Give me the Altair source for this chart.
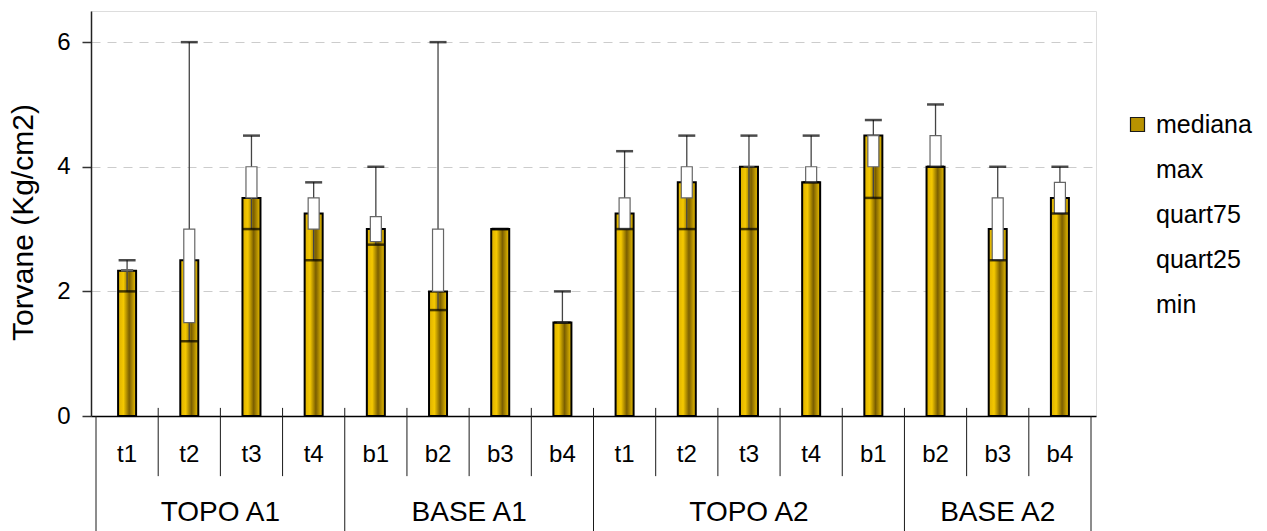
import altair as alt
import pandas as pd

# ---- data -------------------------------------------------------------
categories = ["t1", "t2", "t3", "t4", "b1", "b2", "b3", "b4",
              "t1", "t2", "t3", "t4", "b1", "b2", "b3", "b4"]
groups = ["TOPO A1"] * 4 + ["BASE A1"] * 4 + ["TOPO A2"] * 5 + ["BASE A2"] * 3

mediana = [2.33, 2.5, 3.5, 3.25, 3.0, 2.0, 3.0, 1.5,
           3.25, 3.75, 4.0, 3.75, 4.5, 4.0, 3.0, 3.5]
max_vals = [2.5, 6.0, 4.5, 3.75, 4.0, 6.0, 3.0, 2.0,
            4.25, 4.5, 4.5, 4.5, 4.75, 5.0, 4.0, 4.0]
quart75 = [2.35, 3.0, 4.0, 3.5, 3.2, 3.0, 3.0, 1.5,
           3.5, 4.0, 4.0, 4.0, 4.5, 4.5, 3.5, 3.75]
quart25 = [2.33, 1.5, 3.5, 3.0, 2.8, 2.0, 3.0, 1.5,
           3.0, 3.5, 4.0, 3.75, 4.0, 4.0, 2.5, 3.25]
min_vals = [2.0, 1.2, 3.0, 2.5, 2.75, 1.7, 3.0, 1.5,
            3.0, 3.0, 3.0, 3.75, 3.5, 4.0, 2.5, 3.25]

series_names = ["mediana", "max", "quart75", "quart25", "min"]
y_ticks = [0, 2, 4, 6]

# ---- layout constants (in y data units below the axis) -----------------
FONT = "Liberation Sans"
Y_MAX = 6.5
SEP_TOP = 0.13          # separators poke slightly above the x axis line
CAT_SEP_BOTTOM = -0.965
GROUP_SEP_BOTTOM = -1.85
CAT_LABEL_Y = -0.63
GROUP_LABEL_Y = -1.55

n = len(categories)
df = pd.DataFrame({
    "pos": [i + 0.5 for i in range(n)],
    "cat": categories,
    "group": groups,
    "mediana": mediana,
    "max": max_vals,
    "q75": quart75,
    "q25": quart25,
    "min": min_vals,
})

# category separators; the ones between groups run down to the bottom
sep_rows = []
for i in range(n + 1):
    edge = i in (0, n)
    long_line = edge or groups[i - 1] != groups[i]
    sep_rows.append({
        "pos": i,
        "top": 0 if edge else SEP_TOP,
        "bottom": GROUP_SEP_BOTTOM if long_line else CAT_SEP_BOTTOM,
    })
sep_df = pd.DataFrame(sep_rows)

group_rows = []
for g in dict.fromkeys(groups):
    idx = [i for i, gg in enumerate(groups) if gg == g]
    group_rows.append({"group": g, "pos": (idx[0] + idx[-1] + 1) / 2})
group_df = pd.DataFrame(group_rows)
group_df["y"] = GROUP_LABEL_Y
cat_df = df[["pos", "cat"]].copy()
cat_df["y"] = CAT_LABEL_Y

legend_df = pd.DataFrame({"serie": series_names})

# ---- shared encodings -------------------------------------------------
x_scale = alt.Scale(domain=[0, n], nice=False, zero=False)
x_axis = alt.Axis(labels=False, ticks=False, grid=False, title=None,
                  domainColor="#000000", domainWidth=1.5)
y_scale = alt.Scale(domain=[0, Y_MAX], nice=False, zero=False)
y_axis = alt.Axis(values=y_ticks, title="Torvane (Kg/cm2)", grid=True,
                  gridColor="#cccccc", gridDash=[9, 7], gridWidth=1,
                  tickSize=9, tickColor="#333333", tickWidth=1.5,
                  domainColor="#222222", domainWidth=1.5,
                  labelFont=FONT, labelFontSize=24, labelColor="#000000",
                  labelPadding=12,
                  titleFont=FONT, titleFontSize=30, titleFontWeight="normal",
                  titleColor="#000000", titleAngle=270, titleX=-68, titleY=211,
                  titleAlign="center", titleBaseline="middle")


def X(field="pos"):
    return alt.X(f"{field}:Q", scale=x_scale, axis=x_axis)


def Y(field):
    return alt.Y(f"{field}:Q", scale=y_scale, axis=y_axis)


gold = alt.Gradient(
    gradient="linear", x1=0, x2=1, y1=0, y2=0,
    stops=[
        alt.GradientStop(color="#dcb000", offset=0),
        alt.GradientStop(color="#f4c800", offset=0.3),
        alt.GradientStop(color="#7a5e00", offset=0.62),
        alt.GradientStop(color="#eec200", offset=1),
    ],
)

bars = alt.Chart(df).mark_bar(size=18, fill=gold, stroke="#000000",
                              strokeWidth=2).encode(x=X(), y=Y("mediana"))

whisker = alt.Chart(df).mark_rule(color="#444444", strokeWidth=1.3).encode(
    x=X(), y=Y("min"), y2=alt.Y2("max"))

box = alt.Chart(df).mark_bar(size=11, fill="#ffffff", stroke="#666666",
                             strokeWidth=1.2).encode(x=X(), y=Y("q25"), y2=alt.Y2("q75"))

cap_max = alt.Chart(df).mark_tick(orient="horizontal", size=17, thickness=2.5,
                                  color="#000000").encode(x=X(), y=Y("max"))
cap_min = alt.Chart(df).mark_tick(orient="horizontal", size=17, thickness=2.5,
                                  color="#000000").encode(x=X(), y=Y("min"))

separators = alt.Chart(sep_df).mark_rule(color="#1a1a1a", strokeWidth=1).encode(
    x=X(), y=Y("top"), y2=alt.Y2("bottom"))

cat_labels = alt.Chart(cat_df).mark_text(
    font=FONT, fontSize=24, color="#000000", baseline="middle", align="center"
).encode(x=X(), y=Y("y"), text="cat:N")

group_labels = alt.Chart(group_df).mark_text(
    font=FONT, fontSize=28, color="#000000", baseline="middle", align="center"
).encode(x=X(), y=Y("y"), text="group:N")

legend = alt.Legend(title=None, orient="none", legendX=1034, legendY=101,
                    symbolType="square", symbolSize=196, symbolOpacity=1,
                    symbolStrokeWidth=1.2, labelFont=FONT, labelFontSize=25,
                    labelColor="#000000", labelOffset=6, rowPadding=19,
                    padding=0)
legend_layer = alt.Chart(legend_df).mark_square(opacity=0).encode(
    fill=alt.Fill("serie:N", legend=legend,
                  scale=alt.Scale(domain=series_names,
                                  range=["#b89200"] + ["transparent"] * 4)),
    stroke=alt.Stroke("serie:N", legend=legend,
                      scale=alt.Scale(domain=series_names,
                                      range=["#1a1a1a"] + ["transparent"] * 4)),
)

chart = alt.layer(
    bars, whisker, box, cap_max, cap_min, separators,
    cat_labels, group_labels, legend_layer,
).properties(
    width=1005, height=405,
    autosize=alt.AutoSizeParams(type="none"),
    padding={"left": 91, "top": 11, "right": 171, "bottom": 115},
).configure_view(
    stroke="#8c8c8c", strokeWidth=2
).configure(background="#ffffff")

chart.save("out.html", embed_options={"renderer": "svg", "actions": False})
